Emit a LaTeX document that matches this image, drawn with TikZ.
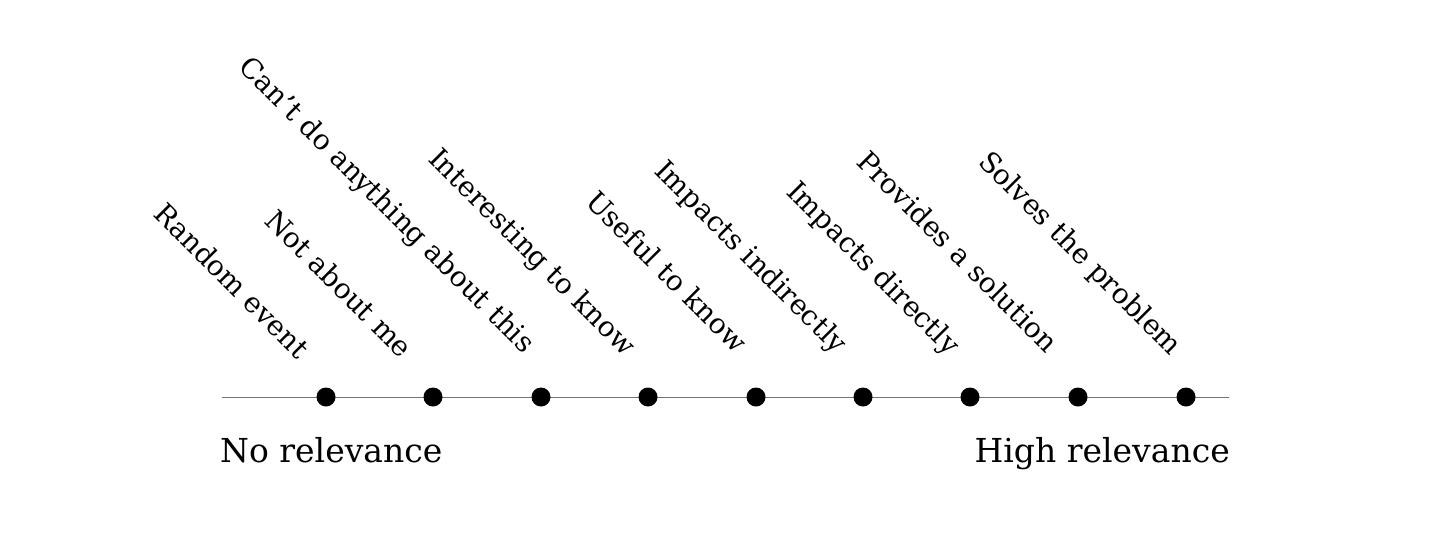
\documentclass[tikz,border=0pt]{standalone}
\usepackage{fontspec}
\setmainfont{DejaVu Serif}
\begin{document}
\begin{tikzpicture}[x=1pt,y=-1pt,
  dotnode/.style={circle,fill=black,inner sep=0pt,minimum size=19pt},
  axisline/.style={draw=black!55,line width=1.6pt},
  diaglabel/.style={rotate=-45,anchor=base west,inner sep=0pt,font=\fontsize{28}{30}\selectfont},
  endlabel/.style={inner sep=0pt,font=\fontsize{33}{36}\selectfont}]
\useasboundingbox (0,0) rectangle (1430,552);
\coordinate (L) at (222,397.5);
\coordinate (R) at (1229,397.5);
\draw[axisline] (L) -- (R);
\foreach \x [count=\i] in {326,433,541,648,756,863,970,1078,1186}
  \node[dotnode] (d\i) at (\x,397) {};
\node[diaglabel] (t1) at (152,215) {Random event};
\node[diaglabel] (t2) at (263,222) {Not about me};
\node[diaglabel] (t3) at (237,68) {Can’t do anything about this};
\node[diaglabel] (t4) at (427,160) {Interesting to know};
\node[diaglabel] (t5) at (584,203) {Useful to know};
\node[diaglabel] (t6) at (653,172) {Impacts indirectly};
\node[diaglabel] (t7) at (785,193) {Impacts directly};
\node[diaglabel] (t8) at (855,163) {Provides a solution};
\node[diaglabel] (t9) at (977,163) {Solves the problem};
\node[endlabel,anchor=base west] (lo) at (220,462) {No relevance};
\node[endlabel,anchor=base east] (hi) at (1230,462) {High relevance};
\end{tikzpicture}
\end{document}
